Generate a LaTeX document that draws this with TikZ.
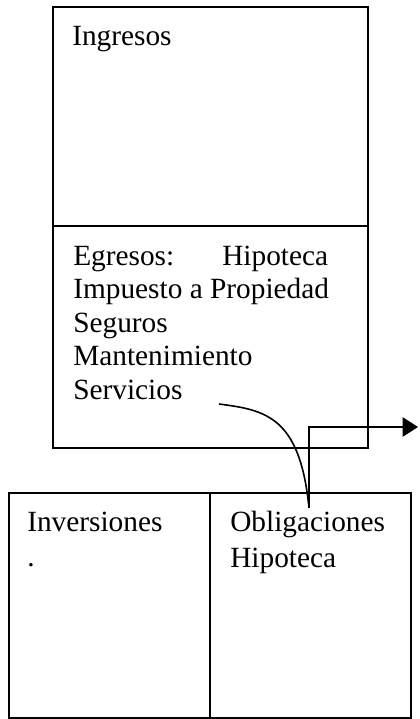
\documentclass[tikz,border=0pt]{standalone}
\usepackage{fontspec}
\setmainfont{Liberation Serif}
\usetikzlibrary{arrows.meta,fit,positioning}
\tikzset{%
	caja/.style  = {draw, rectangle, line width=1.8pt, inner sep=0pt},
	texto/.style = {anchor=base west, inner sep=0pt, font=\fontsize{22}{27}\selectfont},
	linea/.style = {line width=1.2pt},
	flecha/.style= {line width=1.2pt, -{Triangle[length=11.5pt,width=14.5pt]}},
}
\begin{document}
\begin{tikzpicture}[x=0.75pt,y=-0.75pt]
		\useasboundingbox (0,0) rectangle (419,719);
		% cajas
		\node[caja, fit={(53,7) (368,226)}] (ingresos) {};
		\node[caja, fit={(53,226) (368,448)}] (egresos) {};
		\node[caja, fit={(9,493) (210,718)}] (inversiones) {};
		\node[caja, fit={(210,493) (411,718)}] (obligaciones) {};
		% textos
		\node[texto] (t1) at (72,45) {Ingresos};
		\node[texto] (t2) at (73,265) {Egresos:};
		\node[texto] (t3) at (222,265) {Hipoteca};
		\node[texto] (t4) at (73,298) {Impuesto a Propiedad};
		\node[texto] (t5) at (73,332) {Seguros};
		\node[texto] (t6) at (73,365) {Mantenimiento};
		\node[texto] (t7) at (73,399) {Servicios};
		\node[texto] (t8) at (27,531) {Inversiones};
		\node[texto] (t9) at (27,566) {.};
		\node[texto] (t10) at (230,531) {Obligaciones};
		\node[texto] (t11) at (230,567) {Hipoteca};
		% conectores
		\coordinate (c1) at (219,404);
		\coordinate (c2) at (309,508);
		\coordinate (c3) at (418,427);
		\draw[linea] (c1) .. controls (265,410) and (300,416) .. (c2);
		\draw[flecha] (c2) |- (c3);
\end{tikzpicture}
\end{document}
